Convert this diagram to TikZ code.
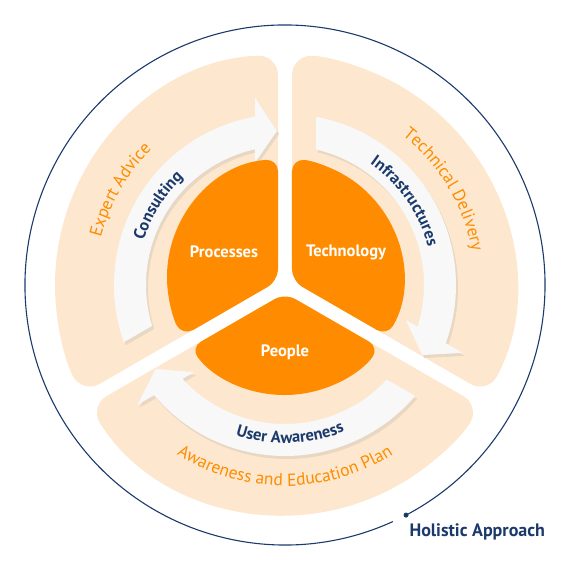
\documentclass[tikz,border=0pt]{standalone}
\usepackage{fontspec}
\setmainfont{PT Sans}
\usepackage{xcolor}
\definecolor{brandorange}{HTML}{FF8C00}
\definecolor{peach}{HTML}{FDE8CF}
\definecolor{navy}{HTML}{1B3A6B}
\definecolor{arrowwhite}{HTML}{F8F8F8}
\definecolor{arrowshade}{HTML}{E8D7C2}
\usetikzlibrary{positioning,decorations.text}
\newcommand\arrowlabelfont{\bfseries\fontsize{16.5}{19}\selectfont}
\newcommand\bandlabelfont{\fontsize{17.5}{20}\selectfont}
% one curved arrow, drawn in the frame of the upper left sector
\newcommand\flowpath{(199.55:171) arc[start angle=199.55, end angle=100.1, radius=171]
  -- (-30,187.6) -- (-8,154) -- (-30,122.4)
  -- (102.5:139) arc[start angle=102.5, end angle=197.11, radius=139] -- cycle}

\begin{document}
\begin{tikzpicture}[x=1pt, y=1pt,
    band/.style={fill=peach, rounded corners=20pt},
    core/.style={fill=brandorange, rounded corners=12pt},
    flow/.style={fill=arrowwhite},
    flowshade/.style={fill=arrowshade},
    corelabel/.style={text=white, font=\bfseries\fontsize{16.5}{19}\selectfont},
    arclabel/.style={decorate, decoration={text along path, text align=center, text color=navy}},
    bandlabel/.style={decorate, decoration={text along path, text align=center, text color=brandorange}}]
  \useasboundingbox (-285,-285) rectangle (285,285);

  % outer ring
  \draw[navy, line width=1.1pt] (-62.25:260) arc[start angle=-62.25, end angle=294.5, radius=260];
  \node[circle, fill=navy, inner sep=0pt, minimum size=5pt] (dot) at (-62.25:260) {};
  \node[anchor=west, text=navy, font=\bfseries\fontsize{18}{21}\selectfont] (holistic) at (121,-247) {Holistic Approach};

  % peach bands
  \foreach \r in {0,-120,-240}
    \fill[band, rotate=\r] (150:8.08) -- (91.744:230) arc[start angle=91.744, end angle=208.256, radius=230] -- cycle;

  % arrows
  \foreach \r in {0,-120,-240} {
    \fill[flowshade, shift={(2,-3)}, rotate=\r] \flowpath;
    \fill[flow, rotate=\r] \flowpath;
  }

  % orange core
  \fill[core] (-7,4.04) -- ([shift={(0,8)}]93.4:118) arc[start angle=93.4, end angle=210, radius=118] -- cycle;
  \fill[core] (7,4.04) -- ([shift={(0,8)}]-29.97:118) arc[start angle=-29.97, end angle=86.6, radius=118] -- cycle;
  \fill[core] (0,-8.08) -- ([shift={(0,8)}]216.78:118) arc[start angle=216.78, end angle=323.22, radius=118] -- cycle;
  \node[corelabel] (processes) at (-61,33) {Processes};
  \node[corelabel] (technology) at (61,33) {Technology};
  \node[corelabel] (people) at (0,-67) {People};

  % labels on the arrows
  \path[arclabel, decoration={text={|\arrowlabelfont|Consulting}}] (188:148) arc[start angle=188, end angle=108, radius=148];
  \path[arclabel, decoration={text={|\arrowlabelfont|Infrastructures}}] (80:148) arc[start angle=80, end angle=-10, radius=148];
  \path[arclabel, decoration={text={|\arrowlabelfont|User Awareness}}] (227:158) arc[start angle=227, end angle=317, radius=158];

  % labels on the bands
  \path[bandlabel, decoration={text={|\bandlabelfont|Expert Advice}}] (195:190) arc[start angle=195, end angle=105, radius=190];
  \path[bandlabel, decoration={text={|\bandlabelfont|Technical Delivery}}] (76:190) arc[start angle=76, end angle=-14, radius=190];
  \path[bandlabel, decoration={text={|\bandlabelfont|Awareness and Education Plan}}] (215:201) arc[start angle=215, end angle=325, radius=201];
\end{tikzpicture}
\end{document}
